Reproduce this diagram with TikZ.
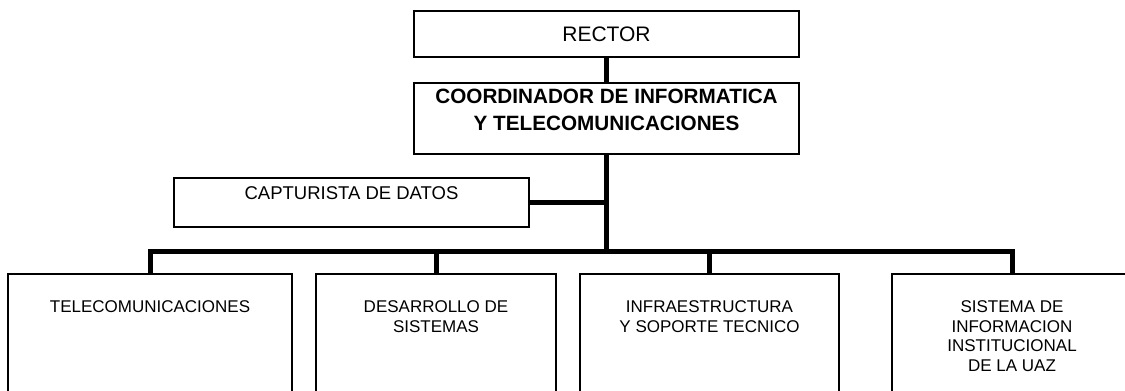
\documentclass[tikz,border=0pt]{standalone}
\usepackage{fontspec}
\setmainfont{Liberation Sans}
\usetikzlibrary{positioning}

\begin{document}
\begin{tikzpicture}[x=1pt, y=-1pt,
		box/.style={draw, line width=1.5pt, inner sep=0pt},
		txt/.style={inner sep=0pt, align=center, anchor=north},
		link/.style={line width=5pt}]
		\useasboundingbox (0,0) rectangle (1125,391);
		\node[box, minimum width=385pt, minimum height=46pt] (rector) at (606.5,34) {};
		\node[txt, below=16.5pt of rector.north, font=\fontsize{21}{25}\selectfont] (rector-t) {RECTOR};
		\node[box, minimum width=385pt, minimum height=71pt] (coord) at (606.5,118.5) {};
		\node[txt, below=7pt of coord.north, font=\fontsize{20.7}{27}\selectfont\bfseries] (coord-t) {COORDINADOR DE INFORMATICA\\Y TELECOMUNICACIONES};
		\node[box, minimum width=355pt, minimum height=49pt] (capt) at (351.5,202.5) {};
		\node[txt, below=9.5pt of capt.north, font=\fontsize{18.5}{22}\selectfont] (capt-t) {CAPTURISTA DE DATOS};
		\coordinate (bus) at (606.5,251);
		\foreach \n/\x/\w/\t in {telecom/150/284/{TELECOMUNICACIONES}, desarrollo/436/240/{DESARROLLO DE\\SISTEMAS}, infra/709.5/259/{INFRAESTRUCTURA\\Y SOPORTE TECNICO}, sia/1012/240/{SISTEMA DE\\INFORMACION\\INSTITUCIONAL\\DE LA UAZ}} {
			\node[box, minimum width=\w pt, minimum height=126pt] (\n) at (\x,337) {};
			\node[txt, below=27pt of \n.north, font=\fontsize{17}{19.7}\selectfont] (\n-t) {\t};
			\draw[link] (\n.north) |- (bus);
		}
		\draw[link] (rector.south) -- (coord.north);
		\draw[link] (coord.south) -- (bus);
		\draw[link] (capt.east) -- (capt.east -| bus);
	\end{tikzpicture}
\end{document}
